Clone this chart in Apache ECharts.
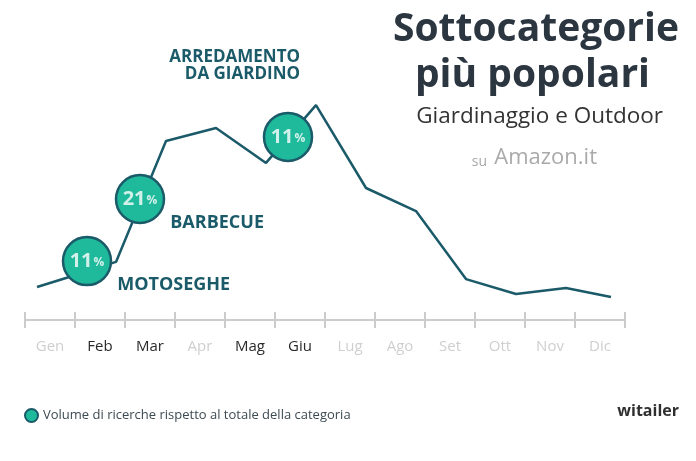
<!DOCTYPE html>
<html>
<head>
<meta charset="utf-8">
<script src="https://cdn.jsdelivr.net/npm/echarts@6/dist/echarts.min.js"></script>
<style>html,body{margin:0;padding:0;background:#fff}#c{width:696px;height:461px}</style>
</head>
<body>
<div id="c"></div>
<script>
// ---- data ----
var months = ['Gen','Feb','Mar','Apr','Mag','Giu','Lug','Ago','Set','Ott','Nov','Dic'];
var activeMonths = ['Feb','Mar','Mag','Giu'];
// trend line: position along the month scale and relative search volume
var trendPos = [-0.58, 0, 1, 2, 3, 4, 5, 6, 7, 8, 9, 10, 10.9];
var trendValues = [15, 19.1, 26.4, 81.4, 87.3, 71.4, 97.7, 60, 49.5, 18.6, 11.8, 14.5, 10.5];
// badges: share of total category searches
var badgePos = [0.42, 1.48, 4.44];
var badgeLevel = [26.8, 55, 83.2];
var badgePct = [11, 21, 11];
var badgeNames = ['MOTOSEGHE', 'BARBECUE', 'ARREDAMENTO\nDA GIARDINO'];
var legendText = 'Volume di ricerche rispetto al totale della categoria';

var FONT = '"Open Sans", "Noto Sans", sans-serif';
var TEAL = '#1fb99b', DARK = '#1b5a68';

var chart = echarts.init(document.getElementById('c'), null, {renderer: 'canvas'});

var monthData = months.map(function (m) {
  return {value: m, textStyle: {color: activeMonths.indexOf(m) >= 0 ? '#2a2a2a' : '#cfcfcf'}};
});

var badgeData = badgePct.map(function (p, i) {
  var lbl;
  if (i < 2) {
    lbl = {show: true, position: 'right', distance: 0, offset: [5, 24], align: 'left', verticalAlign: 'middle',
      formatter: badgeNames[i], color: DARK, fontFamily: FONT, fontWeight: 'bold', fontSize: 18};
  } else {
    lbl = {show: true, position: 'top', distance: 0, offset: [12, -29], align: 'right', verticalAlign: 'bottom',
      formatter: badgeNames[i], color: DARK, fontFamily: FONT, fontWeight: 'bold', fontSize: 17, lineHeight: 17};
  }
  return {value: [badgePos[i], badgeLevel[i], p], label: lbl};
});

var option = {
  animation: false,
  textStyle: {fontFamily: FONT},
  grid: [
    {left: 25, right: 71, top: 100, bottom: 141},
    {left: 36, right: 80, top: 100, bottom: 141}
  ],
  xAxis: [
    {type: 'category', gridIndex: 0, data: monthData, boundaryGap: true, position: 'bottom',
      axisLine: {lineStyle: {color: '#cccccc', width: 2}},
      axisTick: {show: true, length: 8, lineStyle: {color: '#cccccc', width: 2}, alignWithLabel: false},
      axisLabel: {fontSize: 15, margin: 19, fontFamily: FONT},
      splitLine: {show: false}},
    {type: 'category', gridIndex: 0, data: months, boundaryGap: true, position: 'bottom',
      axisLine: {show: false},
      axisTick: {show: true, inside: true, length: 8, lineStyle: {color: '#cccccc', width: 2}},
      axisLabel: {show: false}, splitLine: {show: false}},
    {type: 'value', gridIndex: 1, min: -0.6, max: 11, show: false}
  ],
  yAxis: [
    {type: 'value', gridIndex: 0, min: 0, max: 100, show: false},
    {type: 'value', gridIndex: 1, min: 0, max: 100, show: false}
  ],
  legend: {
    show: true, left: 19, top: 403, itemWidth: 13, itemHeight: 13, itemGap: 6,
    data: [{name: legendText, icon: 'circle'}],
    textStyle: {color: '#3c4a52', fontSize: 13, fontFamily: FONT}
  },
  series: [
    {type: 'line', xAxisIndex: 2, yAxisIndex: 1,
      data: trendPos.map(function (x, i) { return [x, trendValues[i]]; }),
      showSymbol: false, symbol: 'none',
      lineStyle: {color: DARK, width: 2.5}, z: 2},
    {type: 'scatter', name: legendText, xAxisIndex: 2, yAxisIndex: 1,
      data: badgeData, symbol: 'circle', symbolSize: 48,
      itemStyle: {color: TEAL, borderColor: DARK, borderWidth: 2.5, opacity: 1},
      z: 5,
      emphasis: {disabled: true}},
    {type: 'scatter', xAxisIndex: 2, yAxisIndex: 1, data: badgeData.map(function (d) { return d.value; }),
      symbolSize: 0, silent: true, z: 6,
      label: {show: true, position: 'inside', align: 'center', verticalAlign: 'middle',
        formatter: function (p) { return '{n|' + p.value[2] + '}{p|%}'; },
        rich: {n: {color: '#fff', fontSize: 20, fontWeight: 'bold', fontFamily: FONT},
               p: {color: '#fff', fontSize: 12, fontWeight: 'bold', fontFamily: FONT, padding: [4, 0, 0, 1]}}}}
  ],
  graphic: [
    {type: 'text', right: 17, top: 10, style: {text: 'Sottocategorie', font: 'bold 39px ' + FONT, fill: '#2b3640'}},
    {type: 'text', right: 46, top: 56, style: {text: 'più popolari', font: 'bold 39px ' + FONT, fill: '#2b3640'}},
    {type: 'text', right: 33, top: 105, style: {text: 'Giardinaggio e Outdoor', font: '22.5px ' + FONT, fill: '#333333'}},
    {type: 'text', right: 99, top: 147, style: {
      text: '{s|su\u00a0\u00a0}{a|Amazon.it}',
      rich: {s: {font: '14px ' + FONT, fill: '#a8a8a8', verticalAlign: 'bottom'},
             a: {font: '22px ' + FONT, fill: '#aaaaaa'}}}},
    {type: 'text', right: 17, top: 403, style: {text: 'witailer', font: 'bold 16px ' + FONT, fill: '#2f2f2f'}}
  ]
};
chart.setOption(option);
</script>
</body>
</html>
